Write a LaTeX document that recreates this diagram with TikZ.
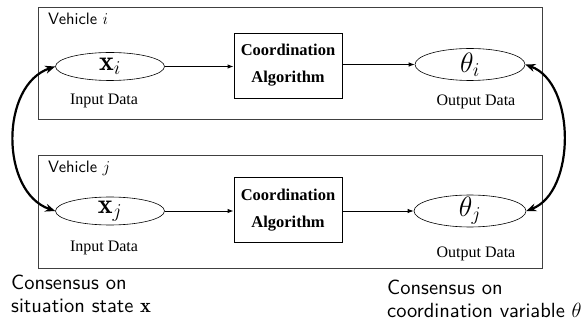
\documentclass[tikz,border=0pt]{standalone}
\usepackage{fix-cm}
\usepackage{fontspec}
\setsansfont[Extension=.otf]{lmsans10-regular}
\newfontfamily\tnr{Liberation Serif}
\usetikzlibrary{shapes.geometric,arrows.meta}
\begin{document}
\begin{tikzpicture}[x=1pt,y=-1pt,
  vbox/.style={draw=black!75, line width=0.8pt, inner sep=0pt, anchor=north west},
  vlabel/.style={anchor=base west, inner sep=0pt, font=\sffamily\fontsize{16.5}{18}\selectfont},
  ell/.style={ellipse, draw, line width=0.6pt, inner sep=0pt},
  mathlbl/.style={inner sep=0pt, font=\fontsize{28}{30}\selectfont},
  algbox/.style={draw, line width=0.9pt, minimum width=108pt, minimum height=65pt, align=center, inner sep=0pt, font=\tnr\bfseries\fontsize{16.5}{27}\selectfont},
  datalbl/.style={anchor=base, inner sep=0pt, font=\tnr\fontsize{16}{18}\selectfont},
  arr/.style={line width=0.9pt, -{Latex[length=6pt,width=4.5pt]}},
  bigarr/.style={line width=2.2pt, {Stealth[length=10pt,width=8pt]}-{Stealth[length=10pt,width=8pt]}},
  cons/.style={anchor=base west, inner sep=0pt, font=\sffamily\fontsize{20.5}{23}\selectfont}
]
\useasboundingbox (0,0) rectangle (586,323);

% vehicle frames
\node[vbox, minimum width=504pt, minimum height=112pt] (vi) at (38,7) {};
\node[vbox, minimum width=504pt, minimum height=113pt] (vj) at (38,155) {};
\node[vlabel] (vil) at (48,25) {Vehicle $i$};
\node[vlabel] (vjl) at (48,173) {Vehicle $j$};

% upper row
\node[ell, minimum width=109pt, minimum height=28pt] (xi) at (110,66.5) {};
\node[mathlbl] (xit) at (xi.center) {$\mathbf{x}_i$};
\node[algbox] (ai) at (288,65.5) {Coordination\\Algorithm};
\node[ell, minimum width=110pt, minimum height=32pt] (ti) at (470,64.5) {};
\node[mathlbl] (tit) at (ti.center) {$\theta_i$};
\node[datalbl] (ini) at (104,105) {Input Data};
\node[datalbl] (outi) at (476,106) {Output Data};

% lower row
\node[ell, minimum width=109pt, minimum height=28pt] (xj) at (110,211) {};
\node[mathlbl] (xjt) at (xj.center) {$\mathbf{x}_j$};
\node[algbox] (aj) at (288,210) {Coordination\\Algorithm};
\node[ell, minimum width=112pt, minimum height=32pt] (tj) at (470,211) {};
\node[mathlbl] (tjt) at (tj.center) {$\theta_j$};
\node[datalbl] (inj) at (104,251) {Input Data};
\node[datalbl] (outj) at (476,257) {Output Data};

% straight arrows
\draw[arr] (xi.east) -- (xi.east -| ai.west);
\draw[arr] (ai.east |- ti.west) -- (ti.west);
\draw[arr] (xj.east) -- (xj.east -| aj.west);
\draw[arr] (aj.east |- tj.west) -- (tj.west);

% consensus arrows
\draw[bigarr] (xi.west) .. controls (0,85) and (0,192) .. (xj.west);
\draw[bigarr] (ti.east) .. controls (576,83) and (576,192) .. (tj.east);

% consensus texts
\node[cons] (c1a) at (11,289) {Consensus on};
\node[cons] (c1b) at (11,312) {situation state $\mathbf{x}$};
\node[cons] (c2a) at (387,294) {Consensus on};
\node[cons] (c2b) at (387,317) {coordination variable $\theta$};
\end{tikzpicture}
\end{document}
